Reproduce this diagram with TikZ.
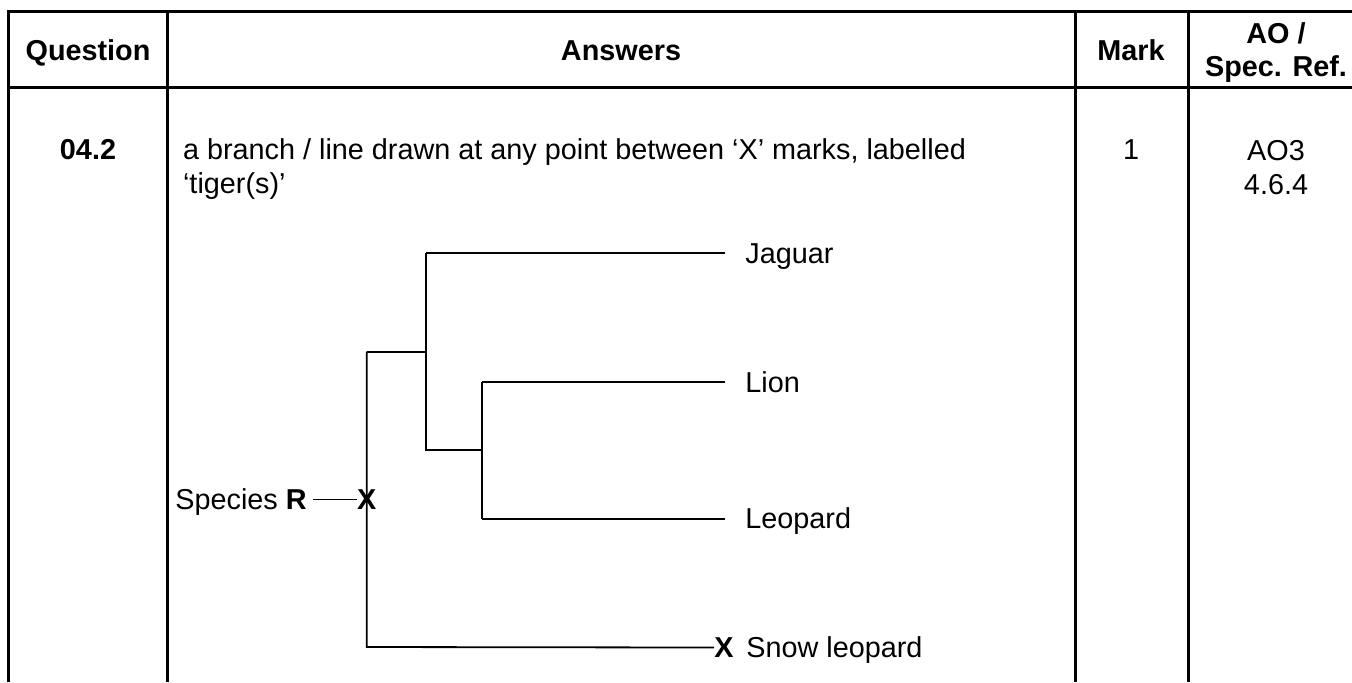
\documentclass[tikz,border=0pt]{standalone}
\usepackage{fontspec}
\setmainfont{Liberation Sans}
\usetikzlibrary{positioning}

\tikzset{
  rule/.style={line width=1.5pt},
  branch/.style={line width=0.9pt},
  tip/.style={anchor=base west, inner ysep=0pt, inner xsep=10pt},
  txt/.style={anchor=base west, inner sep=0pt},
  mid/.style={anchor=base, inner sep=0pt},
  cross/.style={inner sep=0pt, font=\bfseries}
}

\begin{document}
\fontsize{14.4pt}{17pt}\selectfont
\begin{tikzpicture}[x=0.5pt,y=-0.5pt]
				\useasboundingbox (0,0) rectangle (1352,682);
				
				% Table frame
				\draw[rule] (8.5,682) -- (8.5,11) -- (1352,11);
				\draw[rule] (8.5,87) -- (1352,87);
				\foreach \xx in {167.5,1075,1188}
				\draw[rule] (\xx,11) -- (\xx,682);
				
				% Header row
				\node[mid, font=\bfseries] (hquest) at (88,60) {Question};
				\node[mid, font=\bfseries] (hans) at (621,60) {Answers};
				\node[mid, font=\bfseries] (hmark) at (1131,60) {Mark};
				\node[mid, font=\bfseries] (hao) at (1276,43) {AO /};
				\node[mid, font=\bfseries] (hspec) at (1276,76) {Spec. Ref.};
				
				% Answer row
				\node[mid, font=\bfseries] (qnum) at (88,159) {04.2};
				\node[txt] (ans1) at (182.7,159) {a branch / line drawn at any point between ‘X’ marks, labelled};
				\node[txt] (ans2) at (182.7,193) {‘tiger(s)’};
				\node[mid] (mark) at (1131,159) {1};
				\node[mid] (ao) at (1276,160) {AO3};
				\node[mid] (spec) at (1276,194) {4.6.4};
				
				% Tree: branch points
				\coordinate (rtop) at (366.7,351.7);
				\coordinate (rbot) at (366.7,647);
				\coordinate (atop) at (426,252.7);
				\coordinate (abot) at (426,450);
				\coordinate (btop) at (481.7,381.7);
				\coordinate (bbot) at (481.7,519);
				
				% Tree: labels
				\node[tip] (jaguar) at (725,263) {Jaguar};
				\node[tip] (lion) at (725,392) {Lion};
				\node[tip] (leopard) at (725,528) {Leopard};
				\node[cross] (xR) at (366.7,499.5) {X};
				\node[txt] (species) at (175,509) {Species \textbf{R}};
				\node[cross] (xsnow) at (724,647.5) {X};
				\node[txt] (snow) at (746,657.5) {Snow leopard};
				
				% Tree: branches
				\draw[branch] (rtop) -- (rbot) -- (xsnow.west);
				\draw[branch] (rtop) -- (rtop -| atop);
				\draw[branch] (atop) -- (abot) -- (abot -| btop);
				\draw[branch] (atop) -- (atop -| jaguar.west);
				\draw[branch] (btop) -- (bbot);
				\draw[branch] (btop) -- (btop -| lion.west);
				\draw[branch] (bbot) -- (bbot -| leopard.west);
				\draw[branch] ([xshift=3pt]species.east |- xR) -- (xR.west);
				
			\end{tikzpicture}
\end{document}
